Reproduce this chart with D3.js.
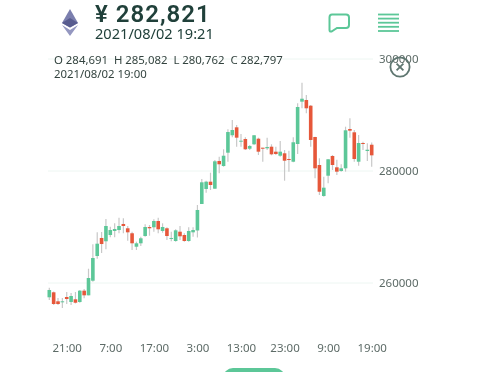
<!DOCTYPE html>
<html>
<head>
<meta charset="utf-8">
<script src="https://cdnjs.cloudflare.com/ajax/libs/d3/7.8.5/d3.min.js"></script>
<style>
  html, body { margin: 0; padding: 0; background: #fff; overflow: hidden; }
  text { font-family: "Noto Sans", sans-serif; }
  svg { filter: blur(0.35px); }
  .axis path, .axis line { display: none; }
</style>
</head>
<body>
<div id="chart"></div>
<script>
// 1 hour candles, the first one is 17:00
const opens = [257450,258340,256730,256610,257500,256610,257090,256610,258630,257800,260410,264820,268040,267450,268570,269290,269460,270540,269770,268880,266480,267090,268390,270000,269950,271070,269290,269770,267910,267500,269160,268570,267500,269050,269380,274110,276790,278090,276840,281790,280890,283270,286380,287800,285230,285710,283980,284770,285770,284160,284050,284340,283450,282730,283160,282140,281660,284820,292380,292680,291660,286070,281070,275540,279160,282680,280660,280000,280480,287500,286910,281660,285000,283570,284691];
const closes = [258750,256250,256250,256730,257140,257680,256480,258630,257800,260890,264460,267020,266960,270180,269460,269640,270180,270180,269050,267090,267090,267980,270000,269770,271070,269590,270000,268390,268040,269410,268340,267500,269290,269460,273040,277980,278090,277500,281730,281200,282730,286960,287320,285950,285410,283880,284460,286380,283450,283980,284290,282980,283040,283450,281840,281960,285130,291430,292910,291200,285540,280480,276300,277020,282090,281070,279880,280480,287270,287200,282140,285000,284820,283800,282797];
const highs = [259160,258480,257320,257320,258390,258210,258390,258750,258930,262550,266910,269050,269110,271430,270050,270660,271660,271550,270180,269160,267380,268270,270480,270360,271380,271660,270660,269950,269160,269590,270180,268880,269950,269950,273930,278570,278270,279700,281960,282550,283880,287450,289110,288210,286610,286020,284640,286430,285950,284160,285950,284770,284340,285360,283750,283620,286020,292090,295770,293570,291790,286130,282270,278980,282140,282860,282020,281200,287910,289410,287320,286430,285230,284950,285082];
const lows = [256960,256070,256070,255540,256250,256070,256340,256480,257270,257800,260230,264340,265360,266020,268160,268160,268880,268880,267550,265890,265890,266610,268270,268450,269160,268880,268980,267680,267450,267380,267680,267380,267380,268270,268130,274110,276130,276610,276790,279590,280770,281660,286020,284340,284340,283750,283750,284640,282860,281660,283750,282800,282860,282550,278270,279880,281550,283040,291200,290300,284340,278700,275710,275410,277800,280180,279290,279880,279880,285950,281660,280950,283750,281790,280762];

const yTicks = [260000, 280000, 300000];
const xTickIndex = [4, 14, 24, 34, 44, 54, 64, 74];
const xTickLabels = ["21:00", "7:00", "17:00", "3:00", "13:00", "23:00", "9:00", "19:00"];

const priceText = "¥ 282,821";
const timeText = "2021/08/02 19:21";
const ohlcText = "O 284,691  H 285,082  L 280,762  C 282,797";
const candleTimeText = "2021/08/02 19:00";

const width = 480, height = 372;
const green = "#5cc798", red = "#e6573a", wick = "#c8c8c8", ink = "#20403a";

const svg = d3.select("#chart").append("svg")
  .attr("width", width)
  .attr("height", height)
  .style("display", "block");

const x = d3.scalePoint()
  .domain(d3.range(opens.length))
  .range([49.3, 371.7]);

const y = d3.scaleLinear()
  .domain([260000, 300000])
  .range([283, 59]);

// grid
svg.append("g").selectAll("line")
  .data(yTicks)
  .enter().append("line")
  .attr("x1", 48).attr("x2", 373)
  .attr("y1", d => y(d)).attr("y2", d => y(d))
  .attr("stroke", "#edf6f2");

// candles
const candles = svg.append("g").selectAll("g")
  .data(opens.map((o, i) => ({ i, o, c: closes[i], h: highs[i], l: lows[i] })))
  .enter().append("g");

candles.append("line")
  .attr("x1", d => x(d.i)).attr("x2", d => x(d.i))
  .attr("y1", d => y(d.h)).attr("y2", d => y(d.l))
  .attr("stroke", wick)
  .attr("stroke-width", 1.2);

candles.append("rect")
  .attr("x", d => x(d.i) - 1.8)
  .attr("width", 3.6)
  .attr("y", d => y(Math.max(d.o, d.c)))
  .attr("height", d => Math.max(1, Math.abs(y(d.o) - y(d.c))))
  .attr("fill", d => d.c >= d.o ? green : red);

// axes
svg.append("g")
  .attr("class", "axis")
  .attr("transform", "translate(379,0)")
  .call(d3.axisRight(y).tickValues(yTicks).tickSize(0).tickPadding(0).tickFormat(d3.format("d")))
  .call(g => g.selectAll("text").attr("font-size", 11.5).attr("fill", "#5d6b67").attr("font-family", '"Noto Sans", sans-serif'));

svg.append("g")
  .attr("class", "axis")
  .attr("transform", "translate(0,344)")
  .call(d3.axisBottom(x).tickValues(xTickIndex).tickSize(0).tickPadding(0).tickFormat((d, i) => xTickLabels[i]))
  .call(g => g.selectAll("text").attr("font-size", 11.5).attr("fill", "#5d6b67").attr("font-family", '"Noto Sans", sans-serif'));

// header text
svg.append("text").attr("x", 95).attr("y", 21.5)
  .attr("font-size", 24).attr("font-weight", 600).attr("letter-spacing", 1).attr("fill", ink)
  .style("font-family", "Roboto, sans-serif").text(priceText);
svg.append("text").attr("x", 95).attr("y", 39)
  .attr("font-size", 14.6).attr("fill", ink).text(timeText);
svg.append("text").attr("x", 54).attr("y", 63.5)
  .attr("font-size", 11.4).attr("fill", "#33433f").attr("xml:space", "preserve").style("white-space", "pre").text(ohlcText);
svg.append("text").attr("x", 54).attr("y", 78)
  .attr("font-size", 11.4).attr("fill", "#33433f").text(candleTimeText);

// ethereum logo
const eth = svg.append("g");
eth.append("path").attr("d", "M70 9 L62 23 L70 27.5 L78 23 Z").attr("fill", "#7b7fae");
eth.append("path").attr("d", "M70 18 L62 23 L70 27.5 L78 23 Z").attr("fill", "#585c8f");
eth.append("path").attr("d", "M62 25 L70 36 L78 25 L70 30 Z").attr("fill", "#9497c0");

// chat icon
svg.append("path")
  .attr("d", "M332 14.5 H346 Q349 14.5 349 17.5 V25 Q349 28 346 28 H337 L331.5 31.5 Q329.5 32 329.5 30 V17.5 Q329.5 14.5 332 14.5 Z")
  .attr("fill", "none").attr("stroke", green).attr("stroke-width", 2);

// menu icon
svg.append("g").selectAll("line")
  .data([14.5, 18.6, 22.7, 26.8, 31])
  .enter().append("line")
  .attr("x1", 378).attr("x2", 399)
  .attr("y1", d => d).attr("y2", d => d)
  .attr("stroke", green).attr("stroke-width", 1.8);

// close button
const closeBtn = svg.append("g").attr("transform", "translate(400,67)");
closeBtn.append("circle").attr("r", 9.6).attr("fill", "none").attr("stroke", "#5e7670").attr("stroke-width", 1.8);
closeBtn.append("path").attr("d", "M-3.4 -3.4 L3.4 3.4 M3.4 -3.4 L-3.4 3.4").attr("stroke", "#5e7670").attr("stroke-width", 1.8);

// bottom tab
svg.append("rect").attr("x", 223).attr("y", 368).attr("width", 62).attr("height", 20).attr("rx", 10).attr("fill", green);
</script>
</body>
</html>
